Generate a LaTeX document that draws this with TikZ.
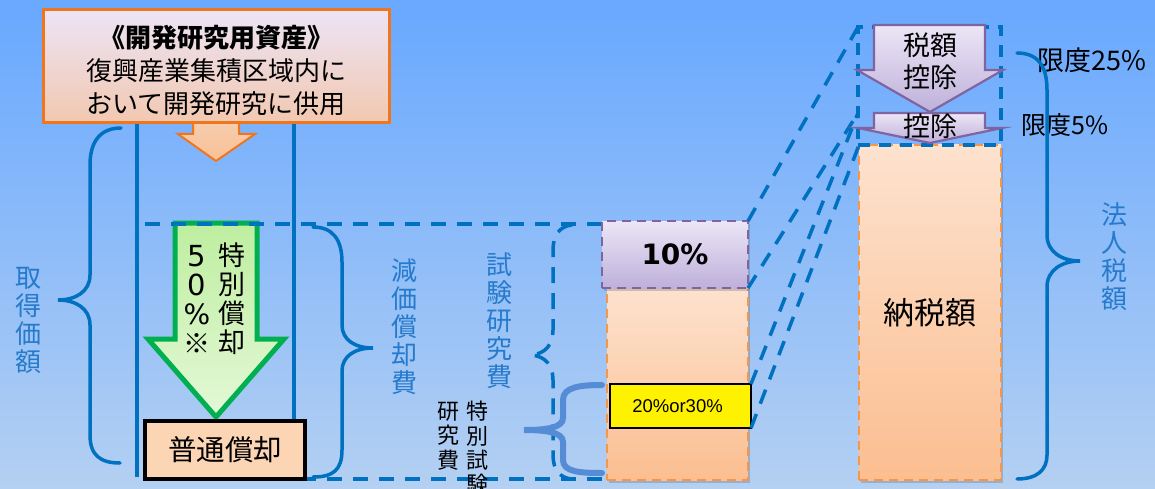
\documentclass[tikz,border=0pt]{standalone}
\usepackage{fontspec}
\setmainfont{Noto Sans CJK JP}
\newfontfamily\dvs{DejaVu Sans}
\newfontfamily\lib{Liberation Sans}
\usetikzlibrary{shadows}
\definecolor{bgtop}{RGB}{104,168,255}
\definecolor{bgbot}{RGB}{180,208,242}
\definecolor{lblue}{RGB}{0,112,192}
\definecolor{tblue}{RGB}{38,122,204}
\definecolor{bblue}{RGB}{86,140,214}
\definecolor{orb}{RGB}{240,118,30}
\definecolor{ord}{RGB}{247,150,70}
\definecolor{purp}{RGB}{128,100,162}
\definecolor{grn}{RGB}{0,176,80}
\definecolor{g1}{RGB}{190,238,160}
\definecolor{g2}{RGB}{228,248,214}
\definecolor{lav1}{RGB}{236,230,246}
\definecolor{lav2}{RGB}{190,176,218}
\definecolor{pk1}{RGB}{236,228,246}
\definecolor{pk2}{RGB}{242,200,176}
\definecolor{pe1}{RGB}{253,226,206}
\definecolor{pe2}{RGB}{251,190,144}
\definecolor{fpeach}{RGB}{252,213,181}
\definecolor{ar1}{RGB}{246,206,176}
\definecolor{ar2}{RGB}{248,192,150}
\begin{document}
\begin{tikzpicture}[x=1pt,y=-1pt,
  bdash/.style={draw=lblue, line width=3.5pt, dash pattern=on 15pt off 11pt},
  vline/.style={draw=lblue, line width=3.5pt},
  brace/.style={draw=lblue, line width=3.5pt, line cap=round},
  vlab/.style={text=tblue, align=center, inner sep=0pt, font=\fontsize{26}{28}\selectfont},
  box/.style={inner sep=0pt, outer sep=0pt, anchor=north west},
  odash/.style={draw=ord, line width=2.5pt, dash pattern=on 9pt off 6pt},
  shad/.style={drop shadow={shadow xshift=2pt, shadow yshift=-3pt, opacity=0.25, fill=black!70}},
  parrow/.style={top color=lav1, bottom color=lav2, draw=purp, line width=2.2pt},
  ]
\useasboundingbox (0,0) rectangle (1155,489);
\shade[top color=bgtop, bottom color=bgbot] (0,0) rectangle (1155,489);

% ---- left part ----
\shadedraw[top color=ar1, bottom color=ar2, draw=orb, line width=2pt]
  (193,118) -- (239,118) -- (239,134) -- (255,134) -- (216,161) -- (178,134) -- (193,134) -- cycle;
\node[box, minimum width=346pt, minimum height=113pt, draw=orb, line width=3pt,
  top color=pk1, bottom color=pk2] (src) at (43,10) {};
\node[align=center, inner sep=0pt, font=\fontsize{26}{33}\selectfont] (srct) at (216,70)
  {{\bfseries 《開発研究用資産》}\\復興産業集積区域内に\\おいて開発研究に供用};

\draw[vline] (137,124) -- (137,477);
\draw[vline] (294,124) -- (294,421);

% left brace
\draw[brace] (121,128) .. controls (100,128) and (90,142) .. (90,165) -- (90,275)
  .. controls (90,292) and (75,300) .. (58,300) .. controls (75,300) and (90,308) .. (90,325)
  -- (90,435) .. controls (90,455) and (100,463) .. (120,463);
\node[vlab] (shutoku) at (28,320) {取\\得\\価\\額};

% green arrow
\shadedraw[top color=g1, bottom color=g2, draw=grn, line width=5pt]
  (175,223) -- (257,223) -- (257,339) -- (284,339) -- (216,417) -- (148,339) -- (175,339) -- cycle;
\node[align=center, inner sep=0pt, font=\fontsize{27}{29}\selectfont] (gosen) at (197,299)
  {{\dvs\fontsize{29}{29}\selectfont 5}\\{\dvs\fontsize{29}{29}\selectfont 0}\\{\dvs\fontsize{28}{29}\selectfont \%}\\※};
\node[align=center, inner sep=0pt, font=\fontsize{27}{29}\selectfont] (tokubetsu) at (232,299) {特\\別\\償\\却};

% dashed horizontal lines
\draw[bdash] (145,224) -- (602,224);
\draw[bdash] (145,479) -- (607,479);

\node[box, minimum width=160pt, minimum height=58pt, draw=black, line width=4.5pt,
  fill=fpeach, font=\fontsize{28.5}{30}\selectfont] (futsu) at (145,421) {普通償却};

% middle brace
\draw[brace] (313,227) .. controls (333,227) and (342,240) .. (342,262) -- (342,325)
  .. controls (342,340) and (355,348) .. (373,348) .. controls (355,348) and (342,356) .. (342,371)
  -- (342,450) .. controls (342,470) and (333,477) .. (313,477);
\node[vlab] (genka) at (404,327) {減\\価\\償\\却\\費};
\node[vlab] (shiken) at (499,321) {試\\験\\研\\究\\費};

% dashed brace
\draw[bdash, dash pattern=on 16pt off 10pt] (572,225) .. controls (560,226) and (553,235) .. (553,250) -- (553,330)
  .. controls (553,345) and (545,354) .. (531,355) .. controls (545,356) and (553,365) .. (553,380)
  -- (553,455) .. controls (553,470) and (560,478) .. (572,479);

% special brace
\draw[draw=bblue, line width=6pt, line cap=round] (602,385) .. controls (580,385) and (563,387) .. (563,400) -- (563,418)
  .. controls (563,428) and (545,430) .. (524,430) .. controls (545,430) and (563,432) .. (563,442)
  -- (563,460) .. controls (563,472) and (580,473) .. (602,473);
\node[align=center, inner sep=0pt, font=\fontsize{22}{24.3}\selectfont] (tokushi) at (477,448) {特\\別\\試\\験};
\node[align=center, inner sep=0pt, font=\fontsize{22}{24.3}\selectfont] (kenkyuhi) at (448,436) {研\\究\\費};

% columns
\node[box, minimum width=141pt, minimum height=192pt, odash, top color=pe1, bottom color=pe2, shad] (col) at (607,288) {};
\node[box, minimum width=146pt, minimum height=67pt, draw=purp, line width=2.5pt, dash pattern=on 9pt off 6pt,
  top color=lav1, bottom color=lav2, shad, font=\dvs\bfseries\fontsize{28}{30}\selectfont] (ten) at (602,221) {10\%};
\node[box, minimum width=141pt, minimum height=44pt, draw=black, line width=2pt, fill=yellow,
  font=\lib\fontsize{18.5}{20}\selectfont] (yel) at (610,384) {\hspace*{-6pt}20\%or30\%};

\node[box, minimum width=142pt, minimum height=335pt, odash, top color=pe1, bottom color=pe2, shad,
  font=\fontsize{31}{33}\selectfont] (nouzei) at (859,145) {納税額};
\node[box, minimum width=143pt, minimum height=118pt, draw=lblue, line width=3.5pt, dash pattern=on 12pt off 9pt] (cred) at (858,27) {};
\coordinate (k2) at (858,113);

% diagonals
\draw[bdash] (ten.north east) -- (cred.north west);
\draw[bdash] (ten.south east) -- (k2);
\draw[bdash] (yel.north east) -- (k2);
\draw[bdash] (yel.south east) -- (nouzei.north west);

% purple arrows
\shadedraw[parrow] (874,25) -- (985,25) -- (985,70) -- (1003,70) -- (930,112) -- (857,70) -- (874,70) -- cycle;
\shadedraw[parrow] (874,113) -- (985,113) -- (985,128) -- (1002,128) -- (930,143) -- (858,128) -- (874,128) -- cycle;
\node[align=center, inner sep=0pt, font=\fontsize{27}{32}\selectfont] (zeigaku) at (930,61) {税額\\控除};
\node[inner sep=0pt, font=\fontsize{27}{29}\selectfont] (kojo) at (930,126) {控除};

\node[anchor=west, inner sep=0pt, font=\fontsize{27}{29}\selectfont] (lim25) at (1037,60) {限度25\%};
\node[anchor=west, inner sep=0pt, font=\fontsize{25}{27}\selectfont] (lim5) at (1021,125) {限度5\%};

% right brace
\draw[brace] (1017,53) .. controls (1037,53) and (1047,65) .. (1047,90) -- (1047,235)
  .. controls (1047,252) and (1062,261) .. (1080,261) .. controls (1062,261) and (1047,270) .. (1047,287)
  -- (1047,455) .. controls (1047,470) and (1037,479) .. (1017,479);
\node[vlab] (hojin) at (1114,257) {法\\人\\税\\額};
\end{tikzpicture}
\end{document}
